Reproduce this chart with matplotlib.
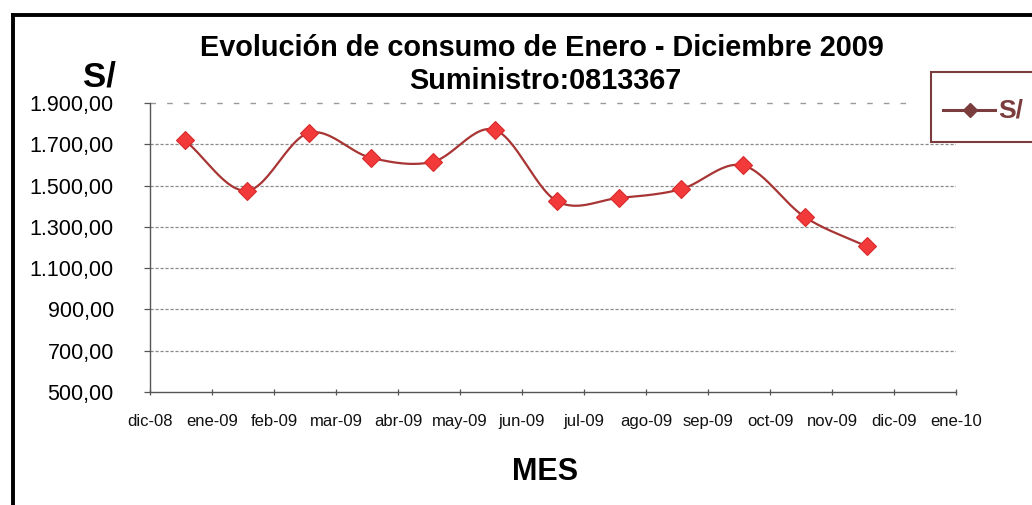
import numpy as np
import matplotlib
matplotlib.use('Agg')
import matplotlib.pyplot as plt
from matplotlib.lines import Line2D

# ------------------------------------------------------------------------------
# data

tick_labels = ['dic-08', 'ene-09', 'feb-09', 'mar-09', 'abr-09', 'may-09', 'jun-09',
               'jul-09', 'ago-09', 'sep-09', 'oct-09', 'nov-09', 'dic-09', 'ene-10']
months = ['ene', 'feb', 'mar', 'abr', 'may', 'jun', 'jul', 'ago', 'sep', 'oct', 'nov', 'dic']
consumo = [1720, 1475, 1755, 1635, 1615, 1770, 1425, 1440, 1482, 1598, 1348, 1205]
y_ticks = [500, 700, 900, 1100, 1300, 1500, 1700, 1900]
y_tick_labels = ['500,00', '700,00', '900,00', '1.100,00', '1.300,00', '1.500,00', '1.700,00', '1.900,00']

LINE_COL = '#a83434'
MARK_COL = '#f23a3a'
LEG_COL = '#7a3c3c'


def smoothCurve(x, y, n=30):
    # catmull-rom curve through the points, like excel's smoothed line
    x = np.asarray(x, float)
    y = np.asarray(y, float)
    px = np.concatenate([[2 * x[0] - x[1]], x, [2 * x[-1] - x[-2]]])
    py = np.concatenate([[2 * y[0] - y[1]], y, [2 * y[-1] - y[-2]]])
    xs, ys = [], []
    t = np.linspace(0, 1, n)
    for i in range(1, len(px) - 2):
        for p, out in ((px, xs), (py, ys)):
            p0, p1, p2, p3 = p[i - 1], p[i], p[i + 1], p[i + 2]
            out.extend(0.5 * ((2 * p1) + (-p0 + p2) * t +
                              (2 * p0 - 5 * p1 + 4 * p2 - p3) * t ** 2 +
                              (-p0 + 3 * p1 - 3 * p2 + p3) * t ** 3))
    return np.array(xs), np.array(ys)


def main():

    plt.rcParams['font.family'] = ['Liberation Sans', 'DejaVu Sans']

    W, H = 1032, 505
    fig = plt.figure(figsize=(W / 100, H / 100), dpi=100)
    fig.patch.set_facecolor('white')

    ax = fig.add_axes([150 / W, 1 - 392 / H, (956 - 150) / W, (392 - 103) / H])
    ax.set_facecolor('none')

    x_pos = np.arange(len(consumo)) + 0.56
    sx, sy = smoothCurve(x_pos, consumo)
    ax.plot(sx, sy, color=LINE_COL, lw=1.6, zorder=3)
    ax.plot(x_pos, consumo, ls='none', marker='D', ms=9.5, mfc=MARK_COL,
            mec='#d82a2a', mew=0.8, zorder=4)

    ax.set_xlim(0, len(tick_labels) - 1)
    ax.set_ylim(y_ticks[0], y_ticks[-1])

    # gridlines
    for v in y_ticks[1:-1]:
        ax.axhline(v, color='#8a8a8a', lw=0.9, ls=(0, (2.5, 1.5)), zorder=1)
    ax.plot([0, 12.3], [y_ticks[-1]] * 2, color='#9a9a9a', lw=1.0,
            ls=(0, (4, 8)), zorder=1, clip_on=False)

    ax.set_xticks(np.arange(len(tick_labels)))
    ax.set_xticklabels(tick_labels)
    ax.set_yticks(y_ticks)
    ax.set_yticklabels(y_tick_labels)

    ax.tick_params(axis='y', length=4, width=0.9, color='#555555', pad=22,
                   labelsize=15.5, labelcolor='black')
    ax.tick_params(axis='x', direction='inout', length=5, width=0.9, color='#555555',
                   pad=13, labelsize=12, labelcolor='#111111')
    for lab in ax.get_yticklabels():
        lab.set_horizontalalignment('right')

    for s in ['top', 'right']:
        ax.spines[s].set_visible(False)
    for s in ['left', 'bottom']:
        ax.spines[s].set_color('#555555')
        ax.spines[s].set_linewidth(1.0)

    # titles and axis labels
    fig.text(542 / W, 1 - 48 / H, 'Evolución de consumo de Enero - Diciembre 2009',
             ha='center', va='center', fontsize=20.8, fontweight='bold')
    fig.text(545 / W, 1 - 81 / H, 'Suministro:0813367',
             ha='center', va='center', fontsize=20.8, fontweight='bold')
    fig.text(99 / W, 1 - 77 / H, 'S/', ha='center', va='center',
             fontsize=25, fontweight='bold')
    fig.text(545 / W, 1 - 472 / H, 'MES', ha='center', va='center',
             fontsize=22, fontweight='bold')

    # legend box (cut by the right edge)
    box = plt.Rectangle((931 / W, 1 - 142 / H), 0.2, 70 / H, transform=fig.transFigure,
                        fill=True, facecolor='white', edgecolor=LEG_COL, lw=1.5, zorder=5)
    fig.add_artist(box)
    fig.add_artist(Line2D([943 / W, 995 / W], [1 - 110 / H] * 2, color=LEG_COL, lw=2.2,
                          marker='None', transform=fig.transFigure, zorder=6))
    fig.add_artist(Line2D([970 / W], [1 - 110 / H], color=LEG_COL, marker='D', ms=7,
                          transform=fig.transFigure, zorder=6))
    fig.text(998 / W, 1 - 110 / H, 'S/', ha='left', va='center', fontsize=19,
             fontweight='bold', color=LEG_COL, zorder=6)

    # outer frame, cut at the right and bottom
    fig.add_artist(Line2D([13 / W, 13 / W], [0, 1 - 15 / H], color='black', lw=2.8,
                          transform=fig.transFigure))
    fig.add_artist(Line2D([13 / W, 1], [1 - 15 / H] * 2, color='black', lw=2.8,
                          transform=fig.transFigure))

    fig.savefig('out.png', dpi=100)


if __name__ == '__main__':
    main()
